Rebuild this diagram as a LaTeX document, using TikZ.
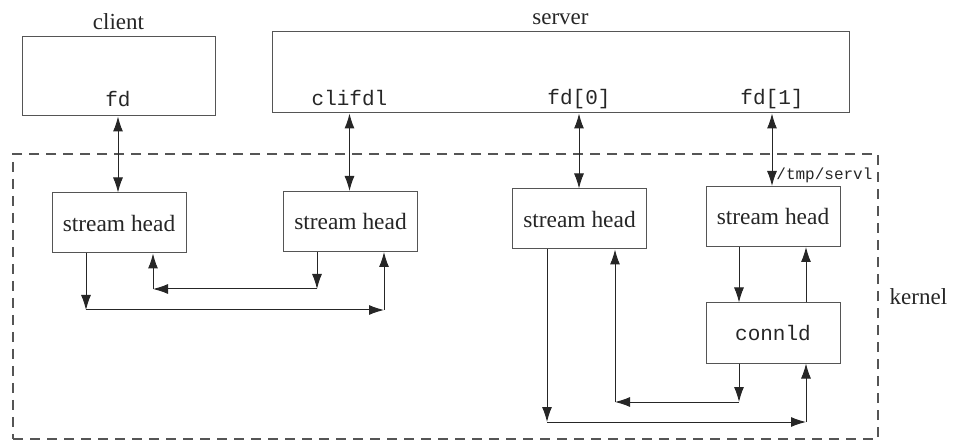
\documentclass[tikz,border=0pt]{standalone}
\usepackage{fontspec}
\setmainfont{Liberation Serif}
\setmonofont{Liberation Mono}
\usepackage{xcolor}
\usepackage{tikz}
\usetikzlibrary{arrows.meta,positioning}
\definecolor{inkgray}{HTML}{262626}
\definecolor{linegray}{HTML}{555555}
\tikzset{
  procbox/.style={draw=linegray,line width=0.5pt,inner sep=0pt},
  headbox/.style={draw=linegray,line width=0.5pt,minimum width=67pt,minimum height=30pt,font=\fontsize{11.7}{14}\selectfont,text=inkgray},
  fdlabel/.style={font=\ttfamily\fontsize{10.5}{12}\selectfont,text=inkgray,inner sep=0pt},
  boxtitle/.style={font=\fontsize{11.5}{14}\selectfont,text=inkgray},
  flowarrow/.style={-{Latex[length=7.5pt,width=5pt]},draw=inkgray,line width=0.5pt},
  duplex/.style={{Latex[length=7.5pt,width=5pt]}-{Latex[length=7.5pt,width=5pt]},draw=inkgray,line width=0.5pt},
  kernelframe/.style={draw=linegray,line width=0.6pt,dash pattern=on 5pt off 3.5pt,inner sep=0pt},
}
\begin{document}
\begin{tikzpicture}[x=0.5pt,y=-0.5pt]
    \useasboundingbox (0,0) rectangle (960,444);
    % user processes
    \node[procbox,minimum width=96.5pt,minimum height=39.5pt] (client) at (118.5,76.5) {};
    \node[procbox,minimum width=288.5pt,minimum height=40.5pt] (server) at (560.5,72.5) {};
    \node[boxtitle,above=0pt of client] (clientname) {client};
    \node[boxtitle,above=0pt of server] (servername) {server};
    \node[fdlabel,anchor=base] (fd) at (118,107) {fd};
    \node[fdlabel,anchor=base] (clifdl) at (349.5,106) {clifdl};
    \node[fdlabel,anchor=base] (fdzero) at (579,105) {fd[0]};
    \node[fdlabel,anchor=base] (fdone) at (772,105) {fd[1]};
    % kernel
    \node[kernelframe,minimum width=432.5pt,minimum height=142.5pt] (kernelbox) at (445.5,296.5) {};
    \node[boxtitle,right=2pt of kernelbox] (kernelname) {kernel};
    \node[headbox] (sh1) at (119,223) {stream head};
    \node[headbox] (sh2) at (350.5,221.5) {stream head};
    \node[headbox] (sh3) at (579.5,219) {stream head};
    \node[headbox] (sh4) at (773,216.5) {stream head};
    \node[headbox,font=\ttfamily\fontsize{10.5}{12}\selectfont] (connld) at (773,333) {connld};
    \node[fdlabel,font=\ttfamily\fontsize{8}{10}\selectfont,anchor=west] (servpath) at (776,175) {/tmp/servl};
    % descriptors to stream heads
    \draw[duplex] (client.south -| fd) -- (sh1.north -| fd);
    \draw[duplex] (server.south -| clifdl) -- (sh2.north -| clifdl);
    \draw[duplex] (server.south -| fdzero) -- (sh3.north -| fdzero);
    \draw[duplex] (server.south -| fdone) -- (sh4.north -| fdone);
    % client pipe
    \coordinate (ca1) at (86,310);
    \coordinate (ca2) at (384,310);
    \coordinate (cb1) at (317,289);
    \coordinate (cb2) at (153,289);
    \draw[flowarrow] (sh1.south -| ca1) -- (ca1);
    \draw[flowarrow] (ca1) -- (ca2);
    \draw[flowarrow] (ca2) -- (sh2.south -| ca2);
    \draw[flowarrow] (sh2.south -| cb1) -- (cb1);
    \draw[flowarrow] (cb1) -- (cb2);
    \draw[flowarrow] (cb2) -- (sh1.south -| cb2);
    % server pipe through connld
    \coordinate (sa1) at (547,422);
    \coordinate (sa2) at (806,422);
    \coordinate (sb1) at (739,402);
    \coordinate (sb2) at (615,402);
    \draw[flowarrow] (sh3.south -| sa1) -- (sa1);
    \draw[flowarrow] (sa1) -- (sa2);
    \draw[flowarrow] (sa2) -- (connld.south -| sa2);
    \draw[flowarrow] (connld.south -| sb1) -- (sb1);
    \draw[flowarrow] (sb1) -- (sb2);
    \draw[flowarrow] (sb2) -- (sh3.south -| sb2);
    \draw[flowarrow] (sh4.south -| sb1) -- (connld.north -| sb1);
    \draw[flowarrow] (connld.north -| sa2) -- (sh4.south -| sa2);
  \end{tikzpicture}
\end{document}
